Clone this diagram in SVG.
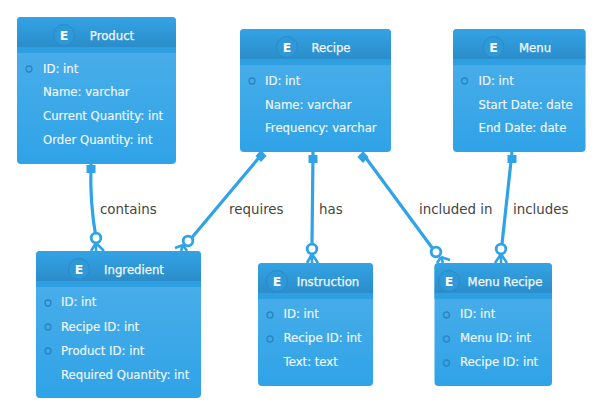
<svg xmlns="http://www.w3.org/2000/svg" width="596" height="410" viewBox="0 0 596 410">
<style>
.card{fill:url(#body)}
.head{fill:url(#head)}
.strip{fill:#2e9fe0}
.badge{fill:#2e98d8;stroke:#2b8ac6;stroke-width:1}
.e{font:bold 12.500px "DejaVu Sans",sans-serif;fill:#fff;text-anchor:middle}
.t{font:11.700px "DejaVu Sans",sans-serif;fill:#f2f8fd;stroke:#f2f8fd;stroke-width:.25;text-anchor:middle}
.a{font:11.700px "DejaVu Sans",sans-serif;fill:#f2f8fd;stroke:#f2f8fd;stroke-width:.15}
.k{fill:none;stroke:#2b85c0;stroke-width:1.3}
.c{fill:none;stroke:#2fa3e7;stroke-width:3.200}
.o{fill:#fff;stroke:#2fa3e7;stroke-width:2.800}
.m{fill:none;stroke:#2fa3e7;stroke-width:2.600}
.l{font:13.400px "DejaVu Sans",sans-serif;fill:#444}
.p{fill:#2fa3e7}
</style>
<defs>
<linearGradient id="body" x1="0" y1="0" x2="0" y2="1"><stop offset="0" stop-color="#50b0ea"/><stop offset="1" stop-color="#2fa3e7"/></linearGradient>
<linearGradient id="head" x1="0" y1="0" x2="0" y2="1"><stop offset="0" stop-color="#33a3e5"/><stop offset="1" stop-color="#2b8dca"/></linearGradient>
</defs>
<g id="connectors">
<path class="c" d="M91 164C90 190 92 215 96 238"/>
<rect class="p" x="86.500" y="165" width="9" height="8"/>
<circle class="o" cx="96" cy="238" r="4.800"/>
<path class="m" d="M96 243L91 251M96 243L96 251M96 243L104 251"/>
<path class="c" d="M262 154L189 241"/>
<path class="p" d="M261 150L266.500 156L261 162L255.500 156Z"/>
<circle class="o" cx="188" cy="241" r="4.800"/>
<path class="m" d="M183 245L175 248M183 245L181 251M183 245L187 251"/>
<path class="c" d="M313 152L312 244"/>
<rect class="p" x="308.500" y="155" width="9" height="8"/>
<circle class="o" cx="312" cy="249" r="4.800"/>
<path class="m" d="M312 254L307 263M312 254L312 263M312 254L318 263"/>
<path class="c" d="M363 154L433 249"/>
<path class="p" d="M363 151L368.500 157L363 163L357.500 157Z"/>
<circle class="o" cx="436" cy="252" r="4.800"/>
<path class="m" d="M441 257L450 260M441 257L443 263M441 257L437 263"/>
<path class="c" d="M512 152L502 244"/>
<rect class="p" x="507.500" y="155" width="9" height="8"/>
<circle class="o" cx="501" cy="249" r="4.800"/>
<path class="m" d="M501 254L495 263M501 254L501 263M501 254L507 263"/>
</g>
<g id="labels">
<text class="l" x="100" y="213.500">contains</text>
<text class="l" x="229" y="213.500">requires</text>
<text class="l" x="319" y="213.500">has</text>
<text class="l" x="419" y="213.500">included in</text>
<text class="l" x="513" y="213.500">includes</text>
</g>
<g id="product">
<rect class="card" x="17" y="17" width="159" height="147" rx="4"/>
<path class="head" d="M17 47V21a4 4 0 0 1 4-4H172a4 4 0 0 1 4 4V47Z"/>
<rect class="strip" x="17" y="47" width="159" height="6"/>
<circle class="badge" cx="64" cy="35" r="10.500"/>
<text class="e" x="64" y="39.500">E</text>
<text class="t" x="112" y="39.500">Product</text>
<circle class="k" cx="29" cy="69" r="3"/>
<text class="a" x="43" y="72.500">ID: int</text>
<text class="a" x="43" y="95.500">Name: varchar</text>
<text class="a" x="43" y="119.500">Current Quantity: int</text>
<text class="a" x="43" y="143.500">Order Quantity: int</text>
</g>
<g id="recipe">
<rect class="card" x="240" y="29" width="151" height="123" rx="4"/>
<path class="head" d="M240 59V33a4 4 0 0 1 4-4H387a4 4 0 0 1 4 4V59Z"/>
<rect class="strip" x="240" y="59" width="151" height="6"/>
<circle class="badge" cx="287" cy="47" r="10.500"/>
<text class="e" x="287" y="51.500">E</text>
<text class="t" x="331" y="51.500">Recipe</text>
<circle class="k" cx="252" cy="81" r="3"/>
<text class="a" x="265" y="84.500">ID: int</text>
<text class="a" x="265" y="108.500">Name: varchar</text>
<text class="a" x="265" y="131.500">Frequency: varchar</text>
</g>
<g id="menu">
<rect class="card" x="453" y="29" width="132.500" height="123" rx="4"/>
<path class="head" d="M453 59V33a4 4 0 0 1 4-4H581.500a4 4 0 0 1 4 4V59Z"/>
<rect class="strip" x="453" y="59" width="132.500" height="6"/>
<circle class="badge" cx="493.500" cy="47" r="10.500"/>
<text class="e" x="493.500" y="51.500">E</text>
<text class="t" x="535" y="51.500">Menu</text>
<circle class="k" cx="464.500" cy="81" r="3"/>
<text class="a" x="478.500" y="84.500">ID: int</text>
<text class="a" x="478.500" y="108.500">Start Date: date</text>
<text class="a" x="478.500" y="131.500">End Date: date</text>
</g>
<g id="ingredient">
<rect class="card" x="36" y="251" width="165" height="147" rx="4"/>
<path class="head" d="M36 281V255a4 4 0 0 1 4-4H197a4 4 0 0 1 4 4V281Z"/>
<rect class="strip" x="36" y="281" width="165" height="6"/>
<circle class="badge" cx="79" cy="269" r="10.500"/>
<text class="e" x="79" y="273.500">E</text>
<text class="t" x="134" y="273.500">Ingredient</text>
<circle class="k" cx="48" cy="303" r="3"/>
<circle class="k" cx="48" cy="327" r="3"/>
<circle class="k" cx="48" cy="351" r="3"/>
<text class="a" x="61" y="306">ID: int</text>
<text class="a" x="61" y="330.500">Recipe ID: int</text>
<text class="a" x="61" y="354.500">Product ID: int</text>
<text class="a" x="61" y="378.500">Required Quantity: int</text>
</g>
<g id="instruction">
<rect class="card" x="258" y="263" width="115" height="123" rx="4"/>
<path class="head" d="M258 293V267a4 4 0 0 1 4-4H369a4 4 0 0 1 4 4V293Z"/>
<rect class="strip" x="258" y="293" width="115" height="6"/>
<circle class="badge" cx="277" cy="281" r="10.500"/>
<text class="e" x="277" y="285.500">E</text>
<text class="t" x="328" y="285.500">Instruction</text>
<circle class="k" cx="270" cy="315" r="3"/>
<circle class="k" cx="270" cy="339" r="3"/>
<text class="a" x="283.500" y="318">ID: int</text>
<text class="a" x="283.500" y="342">Recipe ID: int</text>
<text class="a" x="283.500" y="366">Text: text</text>
</g>
<g id="menu-recipe">
<rect class="card" x="434.500" y="263" width="117.500" height="123" rx="4"/>
<path class="head" d="M434.500 293V267a4 4 0 0 1 4-4H548a4 4 0 0 1 4 4V293Z"/>
<rect class="strip" x="434.500" y="293" width="117.500" height="6"/>
<circle class="badge" cx="449" cy="281" r="10.500"/>
<text class="e" x="449" y="285.500">E</text>
<text class="t" x="505" y="285.500">Menu Recipe</text>
<circle class="k" cx="446.500" cy="315" r="3"/>
<circle class="k" cx="446.500" cy="339" r="3"/>
<circle class="k" cx="446.500" cy="363" r="3"/>
<text class="a" x="460" y="318">ID: int</text>
<text class="a" x="460" y="342">Menu ID: int</text>
<text class="a" x="460" y="366">Recipe ID: int</text>
</g>
</svg>
